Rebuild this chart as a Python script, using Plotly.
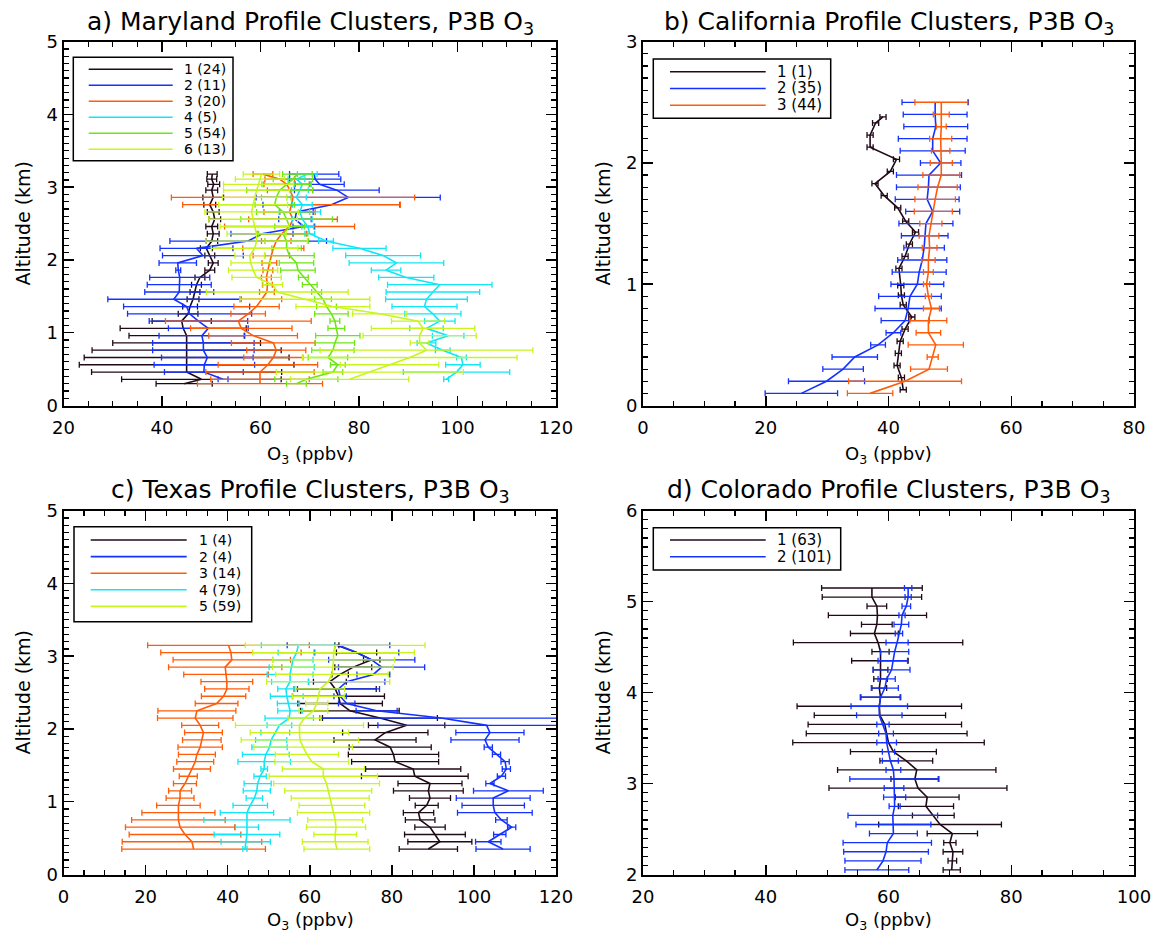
import plotly.graph_objects as go

# ---------------- data ----------------
# a) Maryland
MD_ALT = [0.30, 0.36, 0.46, 0.56, 0.66, 0.76, 0.86, 0.96, 1.06, 1.16, 1.26, 1.36, 1.46, 1.56, 1.66, 1.76,
          1.86, 1.96, 2.06, 2.16, 2.26, 2.36, 2.46, 2.56, 2.66, 2.76, 2.86, 2.96, 3.04, 3.11, 3.18]
MD1 = [44.5, 48.0, 45.0, 45.0, 45.0, 45.0, 45.0, 45.0, 44.3, 44.0, 45.3, 45.7, 46.3, 46.7, 47.0, 47.7,
       49.7, 50.4, 49.7, 49.0, 50.1, 50.4, 50.1, 50.7, 50.4, 49.7, 50.4, 50.1, 50.5, 50.1, 50.2]
MD1_SD = [5.7, 16.2, 19.3, 21.8, 20.8, 19.2, 15.0, 11.7, 12.8, 6.0, 2.0, 1.5, 1.2, 1.0, 1.0, 1.0,
          1.0, 1.0, 1.0, 1.2, 1.2, 1.2, 1.2, 1.2, 1.2, 1.2, 2.1, 1.2, 1.2, 1.0, 1.0]
MD2 = [None, 52.4, 48.5, 48.6, 49.2, 48.4, 48.4, 48.1, 49.4, 47.4, 45.6, 45.0, 42.4, 43.5, 43.5, 43.6,
       43.3, 43.2, 48.3, 47.0, 57.5, 60.3, 68.8, 67.0, 67.3, 74.4, 77.8, 75.5, 72.0, 71.1, 70.9]
MD2_SD = [None, 1.0, 8.0, 10.2, 9.3, 10.3, 10.3, 8.7, 8.1, 10.0, 12.6, 12.8, 13.4, 7.0, 6.5, 6.1,
          0.5, 3.8, 8.2, 7.4, 15.9, 6.3, 2.2, 3.3, 3.4, 13.9, 18.7, 8.6, 5.0, 5.2, 5.0]
MD3 = [59.9, 59.9, 59.9, 61.5, 62.6, 63.2, 62.6, 58.5, 56.1, 55.5, 57.5, 59.2, 60.2, 61.3, 61.4, 61.2,
       61.5, 61.8, 62.2, 62.6, 63.2, 64.3, 65.9, 66.6, 65.9, 66.3, 66.6, 66.0, 65.3, 63.9, 60.5]
MD3_SD = [12.7, 10.0, 11.0, 10.1, 6.0, 6.0, 8.5, 9.0, 10.3, 14.8, 3.5, 4.6, 4.1, 1.5, 1.0, 1.0,
          1.0, 1.5, 3.7, 6.2, 3.0, 5.0, 13.2, 9.0, 5.2, 22.1, 24.7, 4.6, 4.6, 3.0, 2.0]
MD4 = [None, 97.7, 99.8, 101.1, 100.8, 97.0, 93.7, 98.1, 93.7, 96.4, 95.0, 93.3, 93.7, 95.0, 96.4, 89.6,
       85.5, 87.6, 84.9, 80.1, 73.3, 70.0, 69.6, 68.5, 68.0, 68.5, 67.3, 68.0, 68.5, 67.3, 69.5]
MD4_SD = [None, 0.5, 10.8, 3.5, 1.0, 1.5, 1.9, 3.2, 3.4, 3.1, 5.7, 6.6, 8.3, 9.5, 10.6, 5.6,
          3.0, 9.6, 7.6, 5.4, 1.5, 1.0, 1.2, 2.0, 4.2, 2.0, 2.0, 1.7, 1.7, 1.7, 2.0]
MD5 = [67.3, 69.3, 74.7, 75.7, 73.7, 74.7, 75.1, 75.7, 75.4, 75.1, 74.4, 73.4, 72.7, 71.4, 70.0, 68.7,
       67.6, 67.3, 65.9, 65.3, 65.3, 64.6, 65.9, 65.3, 64.6, 62.9, 63.2, 63.9, 65.3, 66.6, 67.5]
MD5_SD = [2.0, 6.4, 2.0, 1.5, 4.0, 4.3, 4.0, 4.5, 1.7, 1.0, 3.4, 2.0, 1.7, 1.0, 1.5, 1.0,
          3.5, 3.5, 5.0, 3.0, 4.4, 5.0, 3.0, 9.3, 5.4, 4.0, 3.0, 6.7, 5.0, 4.0, 3.0]
MD6 = [None, 78.1, 82.2, 86.2, 90.3, 93.7, 92.3, 92.3, 93.0, 92.0, 84.2, 74.7, 69.0, 63.4, 62.5, 59.2,
       58.5, 58.0, 57.8, 58.8, 59.2, 59.2, 58.8, 58.5, 58.2, 58.5, 58.8, 59.2, 59.6, 59.9, 60.2]
MD6_SD = [None, 12.0, 19.0, 10.0, 21.8, 21.6, 1.9, 11.5, 10.5, 5.4, 5.5, 7.5, 13.2, 14.4, 2.0, 5.0,
          5.0, 4.0, 3.0, 8.8, 10.3, 6.0, 7.0, 9.0, 9.5, 7.0, 6.5, 6.7, 7.1, 5.0, 3.7]
MD_LABELS = ["1 (24)", "2 (11)", "3 (20)", "4 (5)", "5 (54)", "6 (13)"]

# b) California
CA1_ALT = [0.13, 0.23, 0.33, 0.43, 0.53, 0.63, 0.73, 0.83, 0.91, 0.99, 1.13, 1.23, 1.33, 1.43, 1.52, 1.63,
           1.73, 1.83, 1.93, 2.03, 2.13, 2.23, 2.33, 2.38]
CA1 = [42.4, 42.1, 41.4, 41.6, 41.9, 42.7, 43.8, 42.4, 42.1, 42.0, 41.7, 42.7, 43.4, 44.4, 42.8, 41.5,
       39.3, 37.8, 40.3, 41.3, 37.0, 37.0, 37.9, 39.1]
CA1_SD = [0.5, 0.5, 0.5, 0.5, 0.5, 0.5, 0.5, 0.5, 0.5, 0.5, 0.5, 0.5, 0.5, 0.5, 0.5, 0.5,
          0.5, 0.5, 0.5, 0.5, 0.5, 0.5, 0.5, 0.5]
CA_ALT = [0.1, 0.2, 0.3, 0.4, 0.5, 0.6, 0.7, 0.8, 0.9, 1.0, 1.1, 1.2, 1.3, 1.4, 1.5, 1.6, 1.7, 1.8, 1.9,
          2.0, 2.1, 2.2, 2.3, 2.4, 2.5]
CA2 = [25.8, 29.9, 32.6, 34.5, 38.3, 40.8, 42.7, 43.2, 43.5, 44.7, 45.0, 45.5, 45.8, 45.9, 46.1, 47.2,
       46.3, 46.5, 46.6, 48.5, 47.2, 47.2, 47.7, 47.6, 47.6]
CA2_SD = [5.9, 6.2, 3.3, 3.7, 1.2, 1.2, 3.9, 5.4, 5.1, 4.3, 4.4, 4.0, 3.3, 3.8, 4.4, 4.4,
          5.2, 5.2, 5.3, 3.3, 5.3, 5.6, 5.2, 5.2, 5.4]
CA3 = [37.0, 42.7, 46.6, 47.2, 47.7, 46.5, 46.5, 47.0, 46.5, 46.2, 46.5, 46.5, 46.7, 46.6, 46.9, 47.3,
       47.6, 48.0, 48.6, 48.6, 48.5, 48.5, 48.6, 48.6, 48.6]
CA3_SD = [3.7, 9.2, 3.0, 0.9, 4.5, 2.0, 3.0, 1.3, 0.5, 0.5, 0.8, 1.1, 1.2, 1.6, 1.8, 3.1,
          3.3, 3.2, 3.0, 1.8, 1.5, 1.8, 0.8, 1.3, 4.3]
CA_LABELS = ["1 (1)", "2 (35)", "3 (44)"]

# c) Texas
TX_ALT = [0.35, 0.45, 0.55, 0.65, 0.75, 0.85, 0.95, 1.05, 1.15, 1.25, 1.35, 1.45, 1.55, 1.65, 1.75,
          1.85, 1.95, 2.05, 2.15, 2.25, 2.35, 2.45, 2.55, 2.65, 2.75, 2.85, 2.95, 3.05, 3.15]
TX1 = [88.9, 91.7, 90.5, 89.3, 86.9, 86.5, 88.5, 89.3, 88.9, 89.3, 85.6, 85.2, 80.8, 80.4, 79.6,
       75.9, 78.4, 83.6, 77.1, 69.8, 67.4, 67.0, 66.2, 64.9, 67.4, 70.6, 75.1, 71.4, 66.6]
TX1_SD = [7.1, 7.8, 7.4, 3.7, 3.6, 3.7, 2.8, 5.0, 8.5, 7.8, 13.0, 11.6, 10.6, 11.0, 10.0,
          10.0, 10.4, 9.3, 14.0, 12.0, 10.3, 11.2, 10.0, 4.0, 2.0, 4.5, 2.0, 4.9, 0.5]
TX2 = [107.1, 103.5, 106.3, 109.2, 106.7, 105.1, 104.7, 104.7, 108.4, 103.9, 106.7, 107.9, 107.6, 105.5, 103.5,
       102.7, 103.9, 103.1, 92.0, 76.3, 69.0, 67.4, 67.0, 69.0, 75.5, 77.5, 75.1, 71.4, 67.0]
TX2_SD = [6.6, 3.1, 1.5, 1.0, 1.4, 9.1, 7.6, 9.0, 8.5, 1.0, 1.0, 1.0, 1.0, 1.0, 1.0,
          8.3, 8.3, 26.5, 29.5, 5.0, 2.0, 1.5, 10.0, 9.3, 4.0, 10.5, 10.5, 10.3, 12.5]
TX3 = [31.7, 31.3, 29.6, 28.4, 28.0, 28.0, 28.0, 28.4, 28.4, 29.6, 30.4, 31.3, 32.1, 32.5, 33.3,
       33.7, 34.1, 33.3, 32.1, 32.5, 37.3, 39.0, 39.8, 39.8, 39.6, 39.4, 41.0, 40.8, 40.2]
TX3_SD = [17.5, 17.0, 13.6, 13.3, 11.4, 8.9, 5.3, 3.4, 2.8, 2.8, 2.2, 4.5, 4.5, 4.5, 5.4,
          4.7, 4.6, 4.5, 9.2, 9.5, 5.2, 5.4, 5.4, 6.3, 10.3, 13.8, 14.3, 17.1, 19.7]
TX4 = [44.2, 44.4, 44.7, 44.7, 44.7, 44.7, 45.5, 46.5, 47.1, 47.3, 47.9, 48.9, 48.9, 49.3, 50.2,
       50.6, 51.6, 52.6, 55.0, 55.2, 54.8, 54.4, 54.2, 55.2, 55.2, 55.6, 55.9, 56.8, 57.2]
TX4_SD = [0.5, 6.0, 8.0, 2.8, 10.5, 6.5, 4.2, 2.0, 3.3, 3.3, 1.5, 0.8, 6.4, 5.7, 4.3,
          3.8, 3.5, 3.0, 5.9, 3.0, 2.7, 4.0, 2.0, 4.5, 5.6, 5.5, 4.9, 4.5, 9.0]
TX5 = [66.6, 66.2, 66.2, 66.4, 66.2, 65.8, 65.4, 65.0, 64.5, 64.1, 63.3, 63.3, 60.5, 59.3, 58.4,
       57.6, 57.5, 57.5, 58.7, 60.9, 61.7, 62.1, 62.5, 64.5, 65.4, 65.6, 65.8, 65.8, 66.2]
TX5_SD = [8.0, 8.0, 5.2, 7.2, 6.7, 8.8, 8.0, 9.5, 10.6, 12.9, 13.2, 10.0, 9.0, 7.7, 12.0,
          14.3, 12.0, 15.6, 4.0, 3.5, 2.7, 6.3, 6.0, 15.0, 13.7, 14.7, 14.9, 19.7, 21.9]
TX_LABELS = ["1 (4)", "2 (4)", "3 (14)", "4 (79)", "5 (59)"]

# d) Colorado
CO_ALT = [2.05, 2.15, 2.25, 2.35, 2.45, 2.55, 2.65, 2.75, 2.85, 2.95, 3.05, 3.15, 3.25, 3.35, 3.45, 3.55,
          3.65, 3.75, 3.85, 3.95, 4.05, 4.15, 4.25, 4.35, 4.45, 4.55, 4.65, 4.75, 4.85, 4.95, 5.05, 5.15]
CO1 = [70.3, 70.4, 70.5, 70.0, 70.4, 68.4, 67.3, 66.1, 66.3, 64.8, 64.3, 64.6, 62.9, 60.8, 60.0, 59.7,
       59.4, 58.6, 58.5, 58.7, 58.5, 58.7, 58.7, 58.6, 58.7, 58.3, 57.7, 58.1, 58.2, 58.1, 57.3, 57.3]
CO1_SD = [1.4, 0.7, 1.6, 1.0, 4.1, 10.0, 3.4, 4.5, 5.2, 14.5, 3.9, 12.9, 4.3, 7.0, 15.6, 13.1,
          12.5, 10.7, 13.4, 3.2, 1.2, 1.1, 1.2, 4.6, 1.4, 13.8, 3.9, 2.5, 8.0, 1.6, 8.1, 8.2]
CO2 = [58.1, 59.1, 59.6, 59.8, 60.8, 60.8, 60.7, 61.0, 61.0, 60.9, 60.9, 60.8, 60.3, 60.0, 59.7, 59.6,
       59.1, 58.5, 58.5, 58.7, 59.4, 59.7, 60.5, 60.7, 61.0, 61.4, 61.7, 62.1, 62.2, 62.9, 63.2, 63.2]
CO2_SD = [5.2, 6.2, 6.9, 7.2, 3.9, 6.1, 7.3, 0.9, 1.8, 1.6, 7.2, 1.2, 1.3, 1.0, 1.6, 1.2,
          1.0, 3.7, 4.6, 3.3, 2.2, 1.4, 3.0, 2.4, 2.3, 1.8, 0.6, 1.2, 0.5, 0.7, 0.5, 0.6]
CO_LABELS = ["1 (63)", "2 (101)"]

C_BLACK = "#200a18"
C_BLUE = "#1432ff"
C_ORANGE = "#ff5c0a"
C_CYAN = "#12e6f6"
C_GREEN = "#6ee614"
C_YELLOW = "#c8f51e"

FONT = "DejaVu Sans"
W, H = 1156, 934


def px(x):
    return x / W


def py(y):
    return 1 - y / H


fig = go.Figure()


def add_series(x, y, sd, color, name, xa, ya):
    fig.add_trace(go.Scatter(
        x=x, y=y, mode="lines", name=name, showlegend=False,
        line=dict(color=color, width=1.6),
        error_x=dict(type="data", array=sd, visible=True, color=color, thickness=1.3, width=3),
        xaxis=xa, yaxis=ya))


md = [(MD1, MD1_SD, C_BLACK), (MD2, MD2_SD, C_BLUE), (MD3, MD3_SD, C_ORANGE),
      (MD4, MD4_SD, C_CYAN), (MD5, MD5_SD, C_GREEN), (MD6, MD6_SD, C_YELLOW)]
for (v, s, c), lab in zip(md, MD_LABELS):
    add_series(v, MD_ALT, s, c, lab, "x", "y")

add_series(CA1, CA1_ALT, CA1_SD, C_BLACK, CA_LABELS[0], "x2", "y2")
add_series(CA2, CA_ALT, CA2_SD, C_BLUE, CA_LABELS[1], "x2", "y2")
add_series(CA3, CA_ALT, CA3_SD, C_ORANGE, CA_LABELS[2], "x2", "y2")

tx = [(TX1, TX1_SD, C_BLACK), (TX2, TX2_SD, C_BLUE), (TX3, TX3_SD, C_ORANGE),
      (TX4, TX4_SD, C_CYAN), (TX5, TX5_SD, C_YELLOW)]
for (v, s, c), lab in zip(tx, TX_LABELS):
    add_series(v, TX_ALT, s, c, lab, "x3", "y3")

add_series(CO1, CO_ALT, CO1_SD, C_BLACK, CO_LABELS[0], "x4", "y4")
add_series(CO2, CO_ALT, CO2_SD, C_BLUE, CO_LABELS[1], "x4", "y4")

# ---------------- layout ----------------
XL = [px(63.5), px(556)]
XR = [px(643), px(1134)]
YT = [py(405.5), py(41.7)]
YB = [py(874.5), py(510.7)]


def axis(rng, dtick, mdtick, domain, anchor, is_x):
    d = dict(range=rng, domain=domain, anchor=anchor, automargin=False,
             showline=True, linecolor="black", linewidth=2,
             mirror="ticks", ticks="inside", ticklen=10, tickwidth=1.5, tickcolor="black",
             tick0=rng[0], dtick=dtick, showgrid=False, zeroline=False, fixedrange=True,
             minor=dict(ticks="inside", ticklen=5, tickwidth=1.2, tickcolor="black", dtick=mdtick,
                        tick0=rng[0], showgrid=False),
             tickfont=dict(family=FONT, size=18, color="black"))
    d["ticklabelstandoff"] = 5 if is_x else 0
    return d


layout = dict(
    width=W, height=H, paper_bgcolor="white", plot_bgcolor="white",
    margin=dict(l=0, r=0, t=0, b=0, autoexpand=False), showlegend=False,
    font=dict(family=FONT, color="black"),
    xaxis=axis([20, 120], 20, 5, XL, "y", True),
    yaxis=axis([0, 5], 1, 0.1, YT, "x", False),
    xaxis2=axis([0, 80], 20, 5, XR, "y2", True),
    yaxis2=axis([0, 3], 1, 0.1, YT, "x2", False),
    xaxis3=axis([0, 120], 20, 5, XL, "y3", True),
    yaxis3=axis([0, 5], 1, 0.1, YB, "x3", False),
    xaxis4=axis([20, 100], 20, 5, XR, "y4", True),
    yaxis4=axis([2, 6], 1, 0.1, YB, "x4", False),
)
fig.update_layout(**layout)

annotations = []
shapes = []

titles = [
    ("a) Maryland Profile Clusters, P3B O<sub>3</sub>", 310, 23),
    ("b) California Profile Clusters, P3B O<sub>3</sub>", 888.5, 23),
    ("c) Texas Profile Clusters, P3B O<sub>3</sub>", 310, 491),
    ("d) Colorado Profile Clusters, P3B O<sub>3</sub>", 888.5, 491),
]
for t, x, y in titles:
    annotations.append(dict(text=t, x=px(x), y=py(y), xref="paper", yref="paper", showarrow=False,
                            xanchor="center", yanchor="middle", font=dict(family=FONT, size=25)))

for cx, cy in [(310, 455), (888.5, 455), (310, 920.5), (888.5, 920.5)]:
    annotations.append(dict(text="O<sub>3</sub> (ppbv)", x=px(cx), y=py(cy), xref="paper", yref="paper",
                            showarrow=False, xanchor="center", yanchor="middle",
                            font=dict(family=FONT, size=18)))
for cx, cy in [(23, 223.6), (603, 223.6), (23, 692.6), (603, 692.6)]:
    annotations.append(dict(text="Altitude (km)", x=px(cx), y=py(cy), xref="paper", yref="paper",
                            showarrow=False, xanchor="center", yanchor="middle", textangle=-90,
                            font=dict(family=FONT, size=19)))


def legend_box(box, line_x, text_x, rows, labels, colors, fsize):
    x0, x1, y0, y1 = box
    shapes.append(dict(type="rect", xref="paper", yref="paper", x0=px(x0), x1=px(x1), y0=py(y1), y1=py(y0),
                       line=dict(color="black", width=1.5), fillcolor="white", layer="above"))
    for r, lab, col in zip(rows, labels, colors):
        shapes.append(dict(type="line", xref="paper", yref="paper", x0=px(line_x[0]), x1=px(line_x[1]),
                           y0=py(r), y1=py(r), line=dict(color=col, width=1.6), layer="above"))
        annotations.append(dict(text=lab, x=px(text_x), y=py(r), xref="paper", yref="paper", showarrow=False,
                                xanchor="left", yanchor="middle", font=dict(family=FONT, size=fsize)))


legend_box((73.3, 233, 57.3, 160.7), (88.7, 172.7), 182, [69.3 + 16 * i for i in range(6)],
           MD_LABELS, [C_BLACK, C_BLUE, C_ORANGE, C_CYAN, C_GREEN, C_YELLOW], 14)
legend_box((653.3, 830.7, 59, 118.3), (670, 765.7), 775, [71.7, 88.5, 105.3],
           CA_LABELS, [C_BLACK, C_BLUE, C_ORANGE], 15)
legend_box((74, 251.7, 526.7, 621.7), (90.7, 186.7), 197, [540 + 16.6 * i for i in range(5)],
           TX_LABELS, [C_BLACK, C_BLUE, C_ORANGE, C_CYAN, C_YELLOW], 14)
legend_box((653.3, 840.7, 527.7, 570), (670, 765.7), 775, [540, 556.7],
           CO_LABELS, [C_BLACK, C_BLUE], 15)

fig.update_layout(annotations=annotations, shapes=shapes)
fig.write_html("out.html", config={"displayModeBar": False, "staticPlot": True},
               post_script="document.body.style.margin='0';document.body.style.overflow='hidden';")
